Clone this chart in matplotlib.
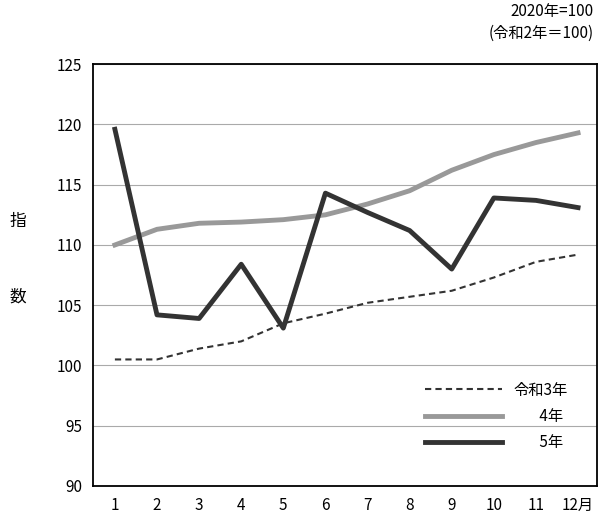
import matplotlib.pyplot as plt
import numpy as np

plt.rcParams['font.family'] = ['Noto Sans CJK JP', 'DejaVu Sans']

months = np.arange(1, 13)
tick_labels = ['1', '2', '3', '4', '5', '6', '7', '8', '9', '10', '11', '12月']
r3 = [100.5, 100.5, 101.4, 102.0, 103.5, 104.3, 105.2, 105.7, 106.2, 107.3, 108.6, 109.2]
r4 = [110.0, 111.3, 111.8, 111.9, 112.1, 112.5, 113.4, 114.5, 116.2, 117.5, 118.5, 119.3]
r5 = [119.6, 104.2, 103.9, 108.4, 103.1, 114.3, 112.7, 111.2, 108.0, 113.9, 113.7, 113.1]

fig = plt.figure(figsize=(6, 5.22), dpi=100)
ax = fig.add_axes([0.155, 0.069, 0.84, 0.808])

ax.plot(months, r3, color='#333333', lw=1.5, ls=(0, (3, 2)), label='令和3年')
ax.plot(months, r4, color='#999999', lw=3.5, label='\u3000   4年')
ax.plot(months, r5, color='#333333', lw=3.5, label='\u3000   5年')

ax.set_xlim(0.48, 12.45)
ax.set_ylim(90, 125)
ax.set_yticks(range(90, 126, 5))
ax.set_xticks(months)
ax.set_xticklabels(tick_labels)
ax.yaxis.grid(True, color='#aaaaaa', lw=0.8)
ax.set_axisbelow(True)
ax.tick_params(length=0, labelsize=11, pad=8)
for s in ax.spines.values():
    s.set_linewidth(1.3)

ax.legend(loc='lower right', frameon=False, fontsize=11, handlelength=5.0,
          bbox_to_anchor=(0.97, 0.05), labelspacing=0.6)

fig.text(0.03, 0.575, '指', fontsize=12, ha='center', va='center')
fig.text(0.03, 0.43, '数', fontsize=12, ha='center', va='center')
fig.text(0.99, 0.995, '2020年=100\n(令和2年＝100)', fontsize=11, ha='right', va='top',
         multialignment='right', linespacing=1.4)

fig.savefig('out.png', dpi=100)
